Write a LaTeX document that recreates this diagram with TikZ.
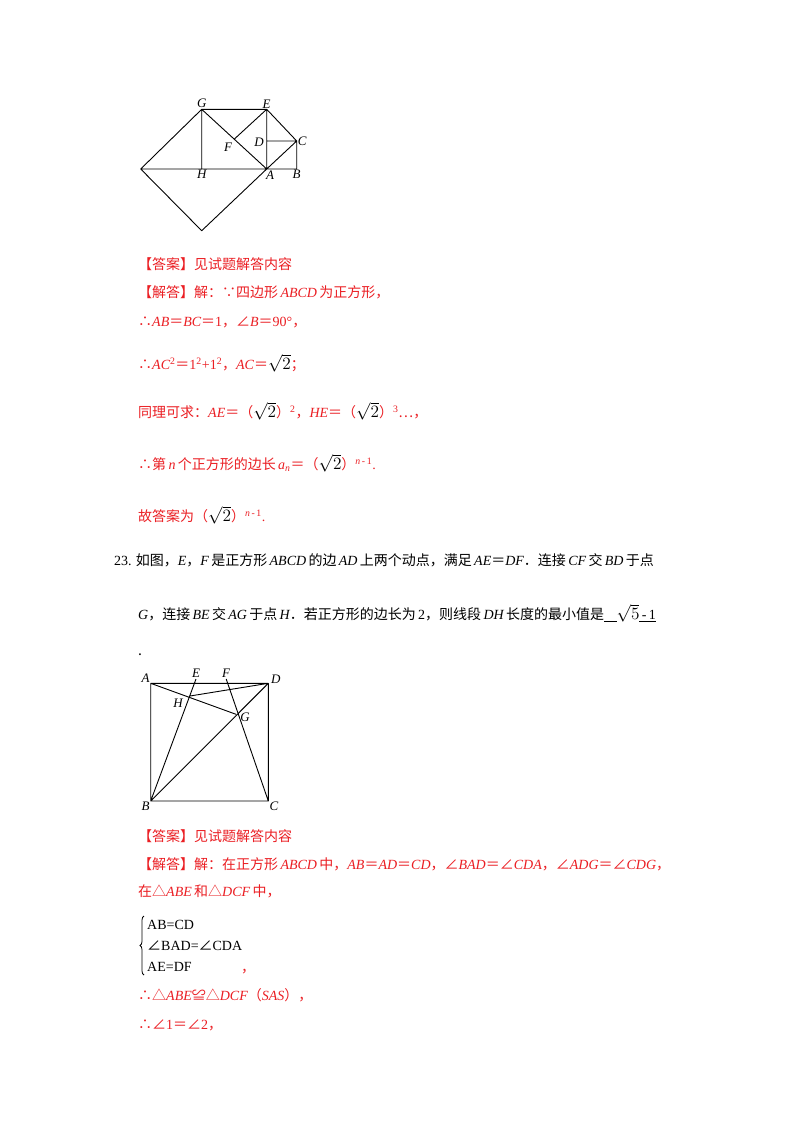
\documentclass[tikz,border=0pt]{standalone}
\usepackage{fontspec}
\usetikzlibrary{decorations.pathreplacing}
\setmainfont{Noto Sans CJK SC}
\newfontfamily\lse{Liberation Serif}
\newcommand\mi[1]{{\lse\itshape #1}}
\newcommand\up[1]{{\lse #1}}
\newcommand\sq[1]{{\color{black}\scalebox{1.2}{$\sqrt{#1}$}}}
\definecolor{ans}{RGB}{235,30,35}
\begin{document}
\begin{tikzpicture}[x=1pt,y=-1pt,
  txt/.style={anchor=west,inner sep=0pt,font=\fontsize{14}{16}\selectfont},
  red/.style={txt,text=ans},
  lbl/.style={inner sep=1pt,font=\fontsize{13}{14}\selectfont\lse\itshape},
  geo/.style={line width=0.9pt,line join=round}]
\useasboundingbox[fill=white] (0,0) rectangle (800,1132);
% ---------- figure 1
\coordinate (A) at (266.7,169);
\coordinate (B) at (296.7,169);
\coordinate (C) at (296.7,141);
\coordinate (D) at (266.7,141);
\coordinate (E) at (266.7,109.3);
\coordinate (G) at (201.7,109.3);
\coordinate (H) at (201.7,169);
\coordinate (L) at (140.7,169);
\coordinate (M) at (201.7,230.7);
\coordinate (F) at (234.2,139.2);
\draw[geo] (G)--(E)--(C)--(B)--(L)--(M)--(A)--(C) (L)--(G)--(H) (G)--(A)--(E) (E)--(F) (D)--(C);
\node[lbl,above] at (G) {G};
\node[lbl,above] at (E) {E};
\node[lbl,right] at (C) {C};
\node[lbl] at (259,142) {D};
\node[lbl] at (228,147) {F};
\node[lbl,below] at (H) {H};
\node[lbl,below] at (270,170) {A};
\node[lbl,below] at (B) {B};
% ---------- text 1
\node[red] at (138,264) {【答案】见试题解答内容};
\node[red] at (138,292) {【解答】解：∵四边形\,\mi{ABCD}\,为正方形，};
\node[red] at (138,322) {∴\mi{AB}＝\mi{BC}＝\up{1}，∠\mi{B}＝\up{90°}，};
\node[red] at (138,363) {∴\mi{AC}\up{\textsuperscript{2}}＝\up{1\textsuperscript{2}+1\textsuperscript{2}}，\mi{AC}＝\sq{2}；};
\node[red] at (138,411) {同理可求：\mi{AE}＝（\sq{2}）\up{\textsuperscript{2}}，\mi{HE}＝（\sq{2}）\up{\textsuperscript{3}}…，};
\node[red] at (138,463) {∴第\,\mi{n}\,个正方形的边长\,\mi{a}\textsubscript{\mi{n}}＝（\sq{2}）\textsuperscript{\mi{n}\,\up{-\,1}}\up{.}};
\node[red] at (138,515) {故答案为（\sq{2}）\textsuperscript{\mi{n}\,\up{-\,1}}\up{.}};
% ---------- question 23
\node[txt] at (114,560) {\up{23.} 如图，\mi{E}，\mi{F}\,是正方形\,\mi{ABCD}\,的边\,\mi{AD}\,上两个动点，满足\,\mi{AE}＝\mi{DF}．连接\,\mi{CF}\,交\,\mi{BD}\,于点};
\node[txt] at (138,613) {\mi{G}，连接\,\mi{BE}\,交\,\mi{AG}\,于点\,\mi{H}．若正方形的边长为\,\up{2}，则线段\,\mi{DH}\,长度的最小值是\underline{\ \ \ \ }\scalebox{1.2}{$\sqrt{5}$}\underline{\up{\,-\,1}}};
\node[txt] at (138,655) {.};
% ---------- figure 2
\coordinate (a) at (150.7,683.3);
\coordinate (d) at (268.3,683.3);
\coordinate (b) at (150.7,801);
\coordinate (c) at (268.3,801);
\coordinate (e2) at (196,679);
\coordinate (f2) at (226.2,679);
\coordinate (g) at (236,714.3);
\coordinate (h) at (190,696);
\draw[geo] (a)--(d)--(c)--(b)--cycle (b)--(e2) (c)--(f2) (b)--(d) (a)--(g) (h)--(d);
\node[lbl,above left] at (a) {A};
\node[lbl,above] at (e2) {E};
\node[lbl,above] at (f2) {F};
\node[lbl,right] at (270,679) {D};
\node[lbl] at (178,703) {H};
\node[lbl] at (245,717) {G};
\node[lbl,below left] at (b) {B};
\node[lbl,below right] at (c) {C};
% ---------- text 2
\node[red] at (138,836) {【答案】见试题解答内容};
\node[red] at (138,864) {【解答】解：在正方形\,\mi{ABCD}\,中，\mi{AB}＝\mi{AD}＝\mi{CD}，∠\mi{BAD}＝∠\mi{CDA}，∠\mi{ADG}＝∠\mi{CDG}，};
\node[red] at (138,891) {在△\mi{ABE}\,和△\mi{DCF}\,中，};
\coordinate (br1) at (144,916);
\coordinate (br2) at (144,975);
\draw[line width=0.8pt,decorate,decoration={brace,amplitude=4pt}] (br2)--(br1);
\node[txt,font=\fontsize{14}{14}\selectfont] at (147,925) {\up{AB=CD}};
\node[txt,font=\fontsize{14}{14}\selectfont] at (147,946) {∠\up{BAD=}∠\up{CDA}};
\node[txt,font=\fontsize{14}{14}\selectfont] at (147,967) {\up{AE=DF}};
\node[red] at (241,972) {，};
\node[red] at (138,995) {∴△\mi{ABE}≌△\mi{DCF}（\mi{SAS}），};
\node[red] at (138,1025) {∴∠\up{1}＝∠\up{2}，};
\end{tikzpicture}
\end{document}
